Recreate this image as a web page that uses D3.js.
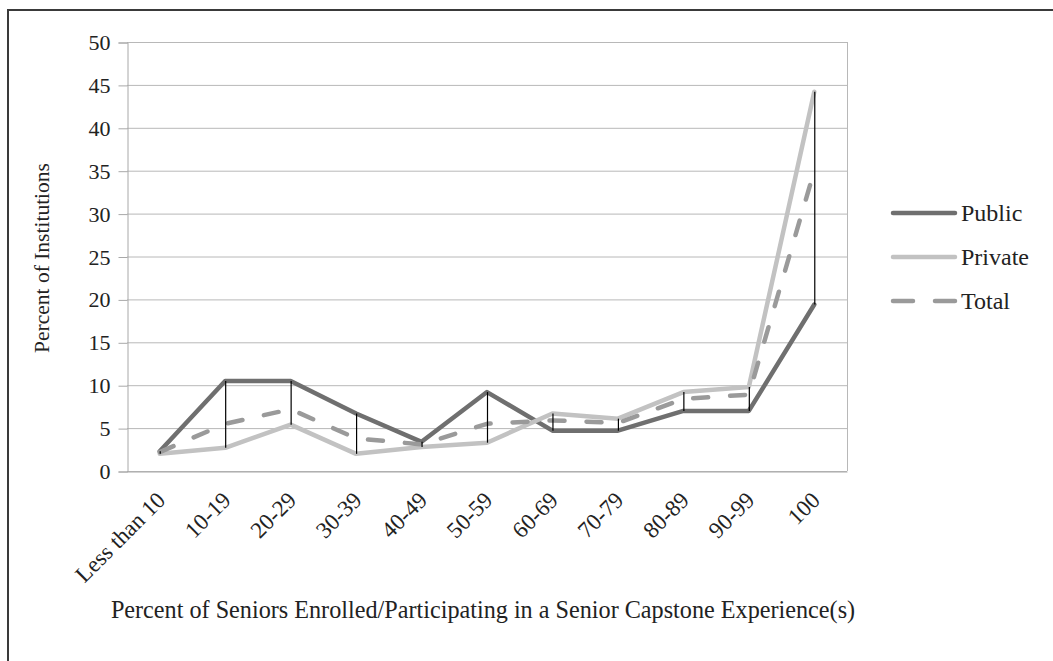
<!DOCTYPE html>
<html>
<head>
<meta charset="utf-8">
<script src="https://cdn.jsdelivr.net/npm/d3@7"></script>
<style>
  html, body { margin: 0; padding: 0; background: #fff; }
  svg { display: block; }
  text { font-family: "Liberation Serif", "DejaVu Serif", serif; fill: #222; }
</style>
</head>
<body>
<svg id="chart" width="1053" height="661"></svg>
<script>
const categories = ["Less than 10","10-19","20-29","30-39","40-49","50-59","60-69","70-79","80-89","90-99","100"];
const publicVals  = [2.3, 10.5, 10.5, 6.7, 3.4, 9.2, 4.7, 4.7, 7.0, 7.0, 19.4];
const privateVals = [2.0, 2.7, 5.4, 2.0, 2.8, 3.3, 6.7, 6.1, 9.2, 9.8, 44.2];
const totalVals   = [2.2, 5.5, 7.2, 3.8, 3.1, 5.5, 5.9, 5.6, 8.4, 8.9, 35.0];
const yTicks = [0, 5, 10, 15, 20, 25, 30, 35, 40, 45, 50];
const seriesNames = ["Public", "Private", "Total"];

const series = [
  { name: seriesNames[0], values: publicVals,  color: "#6f6f6f", dash: null },
  { name: seriesNames[1], values: privateVals, color: "#c2c2c2", dash: null },
  { name: seriesNames[2], values: totalVals,   color: "#9a9a9a", dash: "15,22" }
];

const svg = d3.select("#chart");
const plot = { left: 127, right: 847, top: 42, bottom: 471 };

// outer frame
svg.append("rect")
  .attr("x", 8).attr("y", 10)
  .attr("width", 1100).attr("height", 700)
  .attr("fill", "none").attr("stroke", "#3a3a3a").attr("stroke-width", 2);

const x = d3.scaleBand().domain(categories).range([plot.left, plot.right]);
const y = d3.scaleLinear().domain([0, 50]).range([plot.bottom, plot.top]);

// gridlines
svg.append("g").selectAll("line").data(yTicks).join("line")
  .attr("x1", plot.left).attr("x2", plot.right)
  .attr("y1", d => y(d) + 0.5).attr("y2", d => y(d) + 0.5)
  .attr("stroke", "#b8b8b8").attr("stroke-width", 1);

// right border
svg.append("line")
  .attr("x1", plot.right + 0.5).attr("x2", plot.right + 0.5)
  .attr("y1", plot.top).attr("y2", plot.bottom)
  .attr("stroke", "#b8b8b8");

// y axis
const yAxis = d3.axisLeft(y).tickValues(yTicks).tickSize(9).tickPadding(8);
const gy = svg.append("g").attr("transform", `translate(${plot.left + 0.5},0.5)`).call(yAxis);
gy.select(".domain").attr("stroke", "#a8a8a8");
gy.selectAll(".tick line").attr("stroke", "#a8a8a8");
gy.selectAll(".tick text").attr("font-size", 22).attr("font-family", "Liberation Serif, serif").attr("fill", "#222");

// x axis
const xAxis = d3.axisBottom(x).tickSize(0).tickPadding(0);
const gx = svg.append("g").attr("transform", `translate(0,${plot.bottom + 0.5})`).call(xAxis);
gx.select(".domain").attr("stroke", "#a8a8a8");
gx.selectAll(".tick text")
  .attr("font-size", 23).attr("font-family", "Liberation Serif, serif").attr("fill", "#222")
  .attr("text-anchor", "end")
  .attr("dy", 0).attr("y", 0)
  .attr("transform", "translate(7,30) rotate(-45)");

// lines
const line = d3.line().x((d, i) => x(categories[i]) + x.bandwidth() / 2).y(d => y(d));
series.forEach(s => {
  svg.append("path")
    .datum(s.values)
    .attr("d", line)
    .attr("fill", "none")
    .attr("stroke", s.color)
    .attr("stroke-width", 4.5)
    .attr("stroke-linejoin", "round")
    .attr("stroke-linecap", "round")
    .attr("stroke-dasharray", s.dash);
});

// high-low lines
svg.append("g").selectAll("line").data(categories).join("line")
  .attr("x1", d => x(d) + x.bandwidth() / 2 + 0.5)
  .attr("x2", d => x(d) + x.bandwidth() / 2 + 0.5)
  .attr("y1", (d, i) => y(Math.max(publicVals[i], privateVals[i], totalVals[i])))
  .attr("y2", (d, i) => y(Math.min(publicVals[i], privateVals[i], totalVals[i])))
  .attr("stroke", "#000").attr("stroke-width", 1.2);

// axis titles
svg.append("text")
  .attr("x", 483).attr("y", 618)
  .attr("text-anchor", "middle")
  .attr("font-size", 24.2)
  .text("Percent of Seniors Enrolled/Participating in a Senior Capstone Experience(s)");

svg.append("text")
  .attr("transform", "translate(49,258) rotate(-90)")
  .attr("text-anchor", "middle")
  .attr("font-size", 21.5)
  .text("Percent of Institutions");

// legend
const legend = svg.append("g");
series.forEach((s, i) => {
  const ly = 213 + i * 44;
  legend.append("line")
    .attr("x1", 893).attr("x2", 955)
    .attr("y1", ly).attr("y2", ly)
    .attr("stroke", s.color).attr("stroke-width", 4.5)
    .attr("stroke-linecap", "round")
    .attr("stroke-dasharray", s.dash ? "20,22" : null);
  legend.append("text")
    .attr("x", 961).attr("y", ly + 8)
    .attr("font-size", 24)
    .text(s.name);
});
</script>
</body>
</html>
